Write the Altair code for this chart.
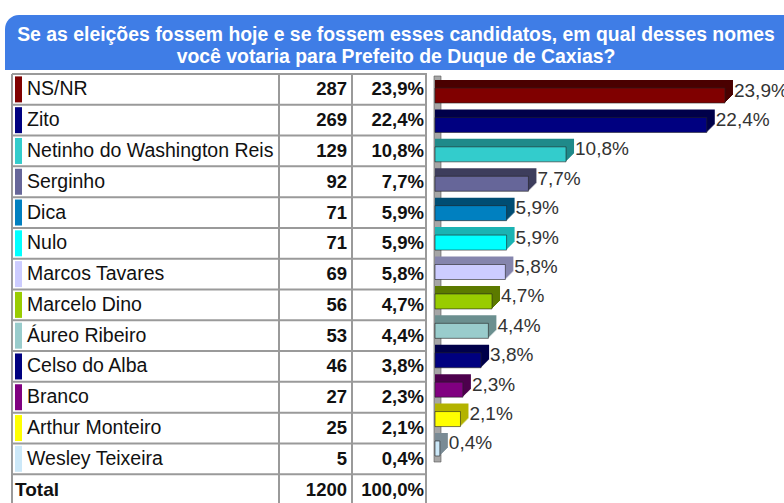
import altair as alt
import pandas as pd

names = ["NS/NR", "Zito", "Netinho do Washington Reis", "Serginho", "Dica", "Nulo",
         "Marcos Tavares", "Marcelo Dino", "Áureo Ribeiro", "Celso do Alba", "Branco",
         "Arthur Monteiro", "Wesley Teixeira"]
counts = [287, 269, 129, 92, 71, 71, 69, 56, 53, 46, 27, 25, 5]
pcts = [23.9, 22.4, 10.8, 7.7, 5.9, 5.9, 5.8, 4.7, 4.4, 3.8, 2.3, 2.1, 0.4]
total_label = "Total"
total_count = 1200
total_pct = 100.0
colors = ["#800000", "#000080", "#33cccc", "#666699", "#0080c0", "#00ffff", "#ccccff",
          "#99cc00", "#99cccc", "#000080", "#800080", "#ffff00", "#cce8f8"]
dark_colors = ["#4a0000", "#00004a", "#1f8a8a", "#3d3d5c", "#004d73", "#1ab3b3", "#8585ad",
               "#5c7a00", "#6b8f8f", "#00004a", "#4d004d", "#b3b300", "#7a8b95"]
title_lines = ["Se as eleições fossem hoje e se fossem esses candidatos, em qual desses nomes",
               "você votaria para Prefeito de Duque de Caxias?"]

def fmt(v):
    return f"{v:.1f}".replace(".", ",") + "%"

rows = pd.DataFrame({
    "cat": names + [total_label],
    "count": counts + [total_count],
    "pct_label": [fmt(v) for v in pcts] + [fmt(total_pct)],
    "bold": [0] * len(names) + [1],
})
bars = pd.DataFrame({"cat": names, "pct": pcts, "color": colors, "dark": dark_colors,
                     "label": [fmt(v) for v in pcts]})

FONT = "Liberation Sans"
all_cats = names + [total_label]
ty = alt.Scale(domain=all_cats, range=[74, 505], paddingInner=0, paddingOuter=0)
by = alt.Scale(domain=names, range=[80.8, 463.2], paddingInner=0, paddingOuter=0)
bx = alt.Scale(domain=[0, 30], range=[435, 799])

base_rows = alt.Chart(rows)
base_bars = alt.Chart(bars)

banner = alt.Chart(pd.DataFrame({"a": [0]})).mark_rect(
    color="#3f7de6", cornerRadiusTopLeft=14
).encode(x=alt.value(5), x2=alt.value(800), y=alt.value(15), y2=alt.value(70))

title_df = pd.DataFrame({"t": title_lines, "line": [0, 1]})
title = alt.Chart(title_df).mark_text(
    font=FONT, fontSize=19.4, fontWeight="bold", color="white", baseline="middle", align="center"
).encode(
    x=alt.value(396),
    y=alt.Y("line:O", scale=alt.Scale(domain=[0, 1], range=[24, 68], paddingInner=0, paddingOuter=0), axis=None),
    text="t:N",
)

hlines = base_rows.mark_rule(color="#9a9a9a", strokeWidth=2).encode(
    y=alt.Y("cat:N", scale=ty, bandPosition=0, axis=None, sort=all_cats),
    x=alt.value(12), x2=alt.value(427),
)
vlines = alt.Chart(pd.DataFrame({"xp": [12, 279, 352, 426]})).mark_rule(
    color="#9a9a9a", strokeWidth=2
).encode(
    x=alt.X("xp:Q", scale=alt.Scale(domain=[0, 784], range=[0, 784]), axis=None),
    y=alt.value(74), y2=alt.value(503),
)

swatch = base_bars.mark_bar(size=26).encode(
    y=alt.Y("cat:N", scale=ty, axis=None, sort=all_cats),
    x=alt.value(15), x2=alt.value(22),
    color=alt.Color("color:N", scale=None),
)

name_txt = base_rows.transform_filter("datum.bold == 0").mark_text(
    font=FONT, fontSize=19.5, align="left", baseline="middle", color="#111").encode(
    y=alt.Y("cat:N", scale=ty, axis=None, sort=all_cats),
    x=alt.value(27),
    text="cat:N",
)
total_txt = base_rows.transform_filter("datum.bold == 1").mark_text(
    font=FONT, fontSize=19, fontWeight="bold", align="left", baseline="middle", color="#111").encode(
    y=alt.Y("cat:N", scale=ty, axis=None, sort=all_cats),
    x=alt.value(15),
    text="cat:N",
)
count_txt = base_rows.mark_text(font=FONT, fontSize=18.5, fontWeight="bold", align="right", baseline="middle", color="#111").encode(
    y=alt.Y("cat:N", scale=ty, axis=None, sort=all_cats),
    x=alt.value(347),
    text="count:Q",
)
pct_txt = base_rows.mark_text(font=FONT, fontSize=18.5, fontWeight="bold", align="right", baseline="middle", color="#111").encode(
    y=alt.Y("cat:N", scale=ty, axis=None, sort=all_cats),
    x=alt.value(424),
    text="pct_label:N",
)

wall = alt.Chart(pd.DataFrame({"a": [0]})).mark_rect(color="#a6a6a6", stroke="#555", strokeWidth=0.6).encode(
    x=alt.value(434), x2=alt.value(441), y=alt.value(76), y2=alt.value(462)
)

extrude = []
for k in range(1, 9):
    extrude.append(base_bars.mark_bar(size=15, xOffset=k, yOffset=-k).encode(
        y=alt.Y("cat:N", scale=by, axis=None, sort=names),
        x=alt.X("pct:Q", scale=bx, axis=None),
        x2=alt.datum(0),
        color=alt.Color("dark:N", scale=None),
    ))
front = base_bars.mark_bar(size=15, stroke="#222", strokeWidth=0.6).encode(
    y=alt.Y("cat:N", scale=by, axis=None, sort=names),
    x=alt.X("pct:Q", scale=bx, axis=None),
    x2=alt.datum(0),
    color=alt.Color("color:N", scale=None),
)
blabel = base_bars.mark_text(font=FONT, fontSize=19, align="left", baseline="middle", color="#333", dx=9, dy=-5).encode(
    y=alt.Y("cat:N", scale=by, axis=None, sort=names),
    x=alt.X("pct:Q", scale=bx, axis=None),
    text="label:N",
)

chart = alt.layer(
    banner, title, hlines, vlines, swatch, name_txt, total_txt, count_txt, pct_txt,
    wall, *extrude, front, blabel
).resolve_scale(y="independent", x="independent").properties(
    width=784, height=503, autosize=alt.AutoSizeParams(type="none"), padding=0, background="white"
).configure_view(stroke=None)

chart.save("out.html", embed_options={"renderer": "svg", "actions": False})
